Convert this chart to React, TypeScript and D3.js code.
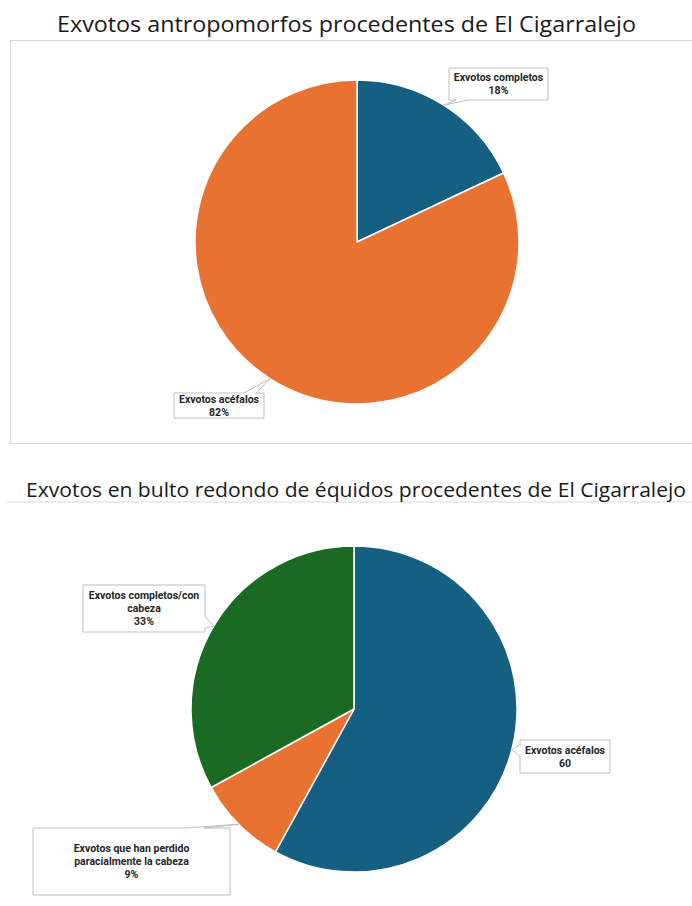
import React from "react";
import * as d3 from "d3";

// ---- Data ----
const topCategories = ["Exvotos completos", "Exvotos acéfalos"];
const topValues = [18, 82];
const topValueLabels = ["18%", "82%"];
const topColors = ["#156082", "#E97132"];

const bottomCategories = ["Exvotos acéfalos", "Exvotos que han perdido paracialmente la cabeza", "Exvotos completos/con cabeza"];
const bottomCategoryLines = [["Exvotos acéfalos"], ["Exvotos que han perdido", "paracialmente la cabeza"], ["Exvotos completos/con", "cabeza"]];
const bottomValues = [58, 9, 33];
const bottomValueLabels = ["60", "9%", "33%"];
const bottomColors = ["#156082", "#E97132", "#196B24"];

const titles = [
  "Exvotos antropomorfos procedentes de El Cigarralejo",
  "Exvotos en bulto redondo de équidos procedentes de El Cigarralejo",
];

// ---- Layout ----
type Box = { x0: number; y0: number; x1: number; y1: number; edge: "top" | "bottom" | "left" | "right"; b0: number; b1: number };

const topLayout = { cx: 357, cy: 242, r: 162 };
const bottomLayout = { cx: 354, cy: 709, r: 163 };

const topBoxes: Box[] = [
  { x0: 449, y0: 68, x1: 548, y1: 100, edge: "bottom", b0: 456, b1: 468 },
  { x0: 174, y0: 393, x1: 264, y1: 418, edge: "top", b0: 244, b1: 256 },
];
const bottomBoxes: Box[] = [
  { x0: 520, y0: 740, x1: 610, y1: 773, edge: "left", b0: 745, b1: 756 },
  { x0: 33, y0: 828, x1: 230, y1: 895, edge: "top", b0: 186, b1: 204 },
  { x0: 83, y0: 585, x1: 205, y1: 632, edge: "right", b0: 616, b1: 628 },
];

function calloutPath(b: Box, tip: [number, number]) {
  const { x0, y0, x1, y1, edge, b0, b1 } = b;
  const t = `${tip[0]},${tip[1]}`;
  if (edge === "top")
    return `M${x0},${y0}L${b0},${y0}L${t}L${b1},${y0}L${x1},${y0}L${x1},${y1}L${x0},${y1}Z`;
  if (edge === "bottom")
    return `M${x0},${y0}L${x1},${y0}L${x1},${y1}L${b1},${y1}L${t}L${b0},${y1}L${x0},${y1}Z`;
  if (edge === "right")
    return `M${x0},${y0}L${x1},${y0}L${x1},${b0}L${t}L${x1},${b1}L${x1},${y1}L${x0},${y1}Z`;
  return `M${x0},${y0}L${x1},${y0}L${x1},${y1}L${x0},${y1}L${x0},${b1}L${t}L${x0},${b0}Z`;
}

const labelFont = "Roboto, 'Noto Sans', sans-serif";
const titleFont = "'Open Sans', 'Noto Sans', sans-serif";

function Pie({ values, colors, layout, boxes, lines }: {
  values: number[]; colors: string[]; layout: { cx: number; cy: number; r: number }; boxes: Box[]; lines: string[][];
}) {
  const pie = d3.pie<number>().sort(null).value((d) => d).startAngle(0).endAngle(2 * Math.PI);
  const arcs = pie(values);
  const arc = d3.arc<d3.PieArcDatum<number>>().innerRadius(0).outerRadius(layout.r);
  return (
    <g>
      <g transform={`translate(${layout.cx},${layout.cy})`}>
        {arcs.map((a, i) => (
          <path key={i} d={arc(a) || ""} fill={colors[i]} stroke="#fff" strokeWidth={1.5} strokeLinejoin="round" />
        ))}
      </g>
      {arcs.map((a, i) => {
        const mid = (a.startAngle + a.endAngle) / 2;
        const tip: [number, number] = [layout.cx + layout.r * Math.sin(mid), layout.cy - layout.r * Math.cos(mid)];
        const b = boxes[i];
        const ls = lines[i];
        const cxT = (b.x0 + b.x1) / 2;
        const lh = 13;
        const total = ls.length * lh;
        const firstBase = (b.y0 + b.y1) / 2 - total / 2 + 10;
        return (
          <g key={"l" + i}>
            <path d={calloutPath(b, tip)} fill="#fff" stroke="#bfbfbf" strokeWidth={1} />
            <text textAnchor="middle" fontFamily={labelFont} fontWeight="bold" fontSize={10.5} fill="#262626">
              {ls.map((t, j) => (
                <tspan key={j} x={cxT} y={firstBase + j * lh}>{t}</tspan>
              ))}
            </text>
          </g>
        );
      })}
    </g>
  );
}

export default function App() {
  const topLines = topCategories.map((c, i) => [c, topValueLabels[i]]);
  const bottomLines = bottomCategoryLines.map((c, i) => [...c, bottomValueLabels[i]]);
  return (
    <svg width={692} height={906} style={{ position: "absolute", left: 0, top: 0, background: "#fff" }}>
      <rect x={0} y={0} width={692} height={906} fill="#fff" />
      {/* top frame */}
      <path d="M692,40.5H10.5V443.5H692" fill="none" stroke="#d9d9d9" strokeWidth={1.2} />
      <text x={346.5} y={31.5} textAnchor="middle" fontFamily={titleFont} fontSize={21.5} fill="#1a1a1a" textLength={579} lengthAdjust="spacingAndGlyphs">{titles[0]}</text>
      <Pie values={topValues} colors={topColors} layout={topLayout} boxes={topBoxes} lines={topLines} />
      {/* bottom frame */}
      <path d="M7,502H692" fill="none" stroke="#d9d9d9" strokeWidth={1.2} />
      <text x={26} y={497} fontFamily={titleFont} fontSize={20.5} fill="#1a1a1a" textLength={660} lengthAdjust="spacingAndGlyphs">{titles[1]}</text>
      <Pie values={bottomValues} colors={bottomColors} layout={bottomLayout} boxes={bottomBoxes} lines={bottomLines} />
    </svg>
  );
}
